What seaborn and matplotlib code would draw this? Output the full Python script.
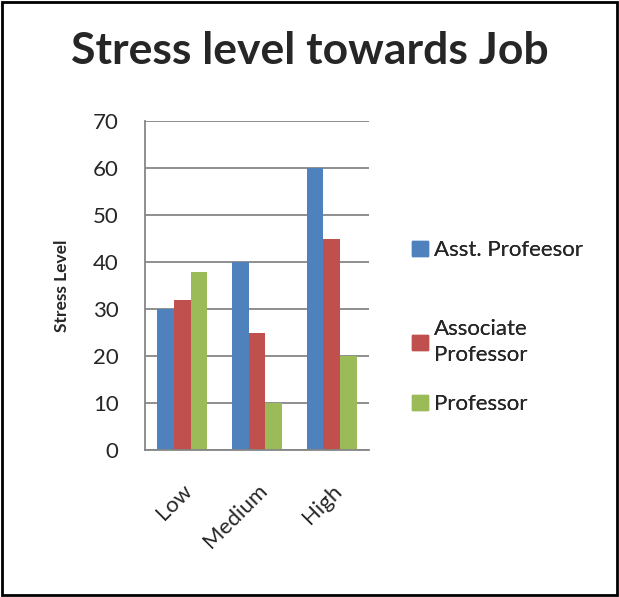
import matplotlib.pyplot as plt
import matplotlib.patches as mpatches
import pandas as pd
import seaborn as sns

levels = ["Low", "Medium", "High"]
groups = ["Asst. Profeesor", "Associate\nProfessor", "Professor"]
asst = [30, 40, 60]
assoc = [32, 25, 45]
prof = [38, 10, 20]
colors = ["#4F81BD", "#C0504D", "#9BBB59"]

df = pd.DataFrame({
    "Level": levels * 3,
    "Group": [g for g in groups for _ in levels],
    "Value": asst + assoc + prof,
})

sns.set_style("white")
plt.rcParams["font.family"] = ["Lato", "DejaVu Sans"]

fig = plt.figure(figsize=(6.19, 5.97), dpi=100)
ax = fig.add_axes([0.234, 0.246, 0.362, 0.551])
sns.barplot(data=df, x="Level", y="Value", hue="Group", palette=colors,
            width=0.67, saturation=1, linewidth=0, ax=ax, legend=False)

ax.set_ylim(0, 70)
ax.set_xlim(-0.5, 2.5)
ax.set_yticks(range(0, 71, 10))
ax.yaxis.grid(True, color="#868686", linewidth=1.3)
ax.set_axisbelow(True)
for s in ["top", "right"]:
    ax.spines[s].set_visible(False)
for s in ["left", "bottom"]:
    ax.spines[s].set_color("#868686")
    ax.spines[s].set_linewidth(1.3)
ax.set_xticks([0, 1, 2])
ax.set_xticklabels(levels, rotation=45, ha="right", rotation_mode="anchor", fontsize=16)
ax.set_xticks([-0.5, 0.5, 1.5, 2.5], minor=True)
ax.tick_params(axis="x", which="major", length=0, pad=22)
ax.tick_params(axis="x", which="minor", length=6, color="#868686", width=1.3, direction="out")
ax.tick_params(axis="y", length=7, color="#868686", width=1.3, direction="out", labelsize=16, pad=12)
ax.set_xlabel("")
ax.set_ylabel("Stress Level", fontsize=12.5, fontweight="bold", labelpad=16)

fig.suptitle("Stress level towards Job", fontsize=32, fontweight="bold", x=0.5, y=0.948)

# one legend per entry so the uneven spacing of the original can be kept
legend_y = [0.581, 0.427, 0.323]
for c, g, yy in zip(colors, groups, legend_y):
    leg = fig.legend(handles=[mpatches.Patch(color=c, label=g)], loc="center left",
                     bbox_to_anchor=(0.6656, yy), frameon=False, fontsize=16,
                     handlelength=0.7, handleheight=0.7, handletextpad=0.3,
                     borderpad=0, borderaxespad=0)
    for t in leg.get_texts():
        t.set_linespacing(1.4)
    fig.add_artist(leg)

fig.patches.append(mpatches.Rectangle((0.003, 0.003), 0.994, 0.994, transform=fig.transFigure,
                                      fill=False, edgecolor="black", linewidth=2))
fig.savefig("out.png", dpi=100)
